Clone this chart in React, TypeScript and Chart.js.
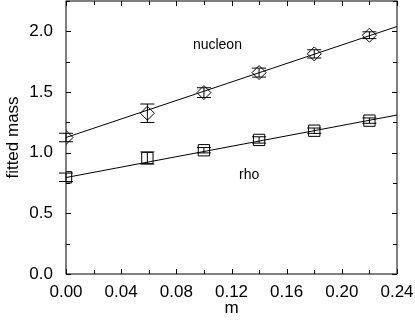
import React, { useEffect, useRef } from "react";
import { Chart, registerables } from "chart.js";

Chart.register(...registerables);

// ---- data ----
const massValues = [0.0, 0.059, 0.1, 0.14, 0.18, 0.22];
const nucleonMass = [1.125, 1.325, 1.495, 1.66, 1.814, 1.968];
const nucleonErr = [0.035, 0.076, 0.04, 0.037, 0.034, 0.028];
const rhoMass = [0.797, 0.956, 1.02, 1.105, 1.181, 1.264];
const rhoErr = [0.035, 0.05, 0.022, 0.026, 0.022, 0.022];
const fitX = [0.0, 0.24];
const nucleonFit = [1.125, 2.04];
const rhoFit = [0.795, 1.31];

const xTicks = [0, 0.04, 0.08, 0.12, 0.16, 0.2, 0.24];
const xMinorTicks = [0.02, 0.06, 0.1, 0.14, 0.18, 0.22];
const yTicks = [0, 0.5, 1.0, 1.5, 2.0];
const yMinorTicks = [0.25, 0.75, 1.25, 1.75, 2.25];

const labelTexts = ["nucleon", "rho"];
const labelX = [0.092, 0.1255];
const labelY = [1.888, 0.816];

const FONT = "'Liberation Sans', Arial, Helvetica, sans-serif";

const framePlugin = {
  id: "frameTicksErrors",
  afterDatasetsDraw(chart: any) {
    const { ctx, chartArea } = chart;
    const xs = chart.scales.x;
    const ys = chart.scales.y;
    const { left, right, top, bottom } = chartArea;
    ctx.save();
    ctx.strokeStyle = "#000";
    ctx.lineWidth = 1;
    // frame
    ctx.strokeRect(left, top, right - left, bottom - top);
    // ticks
    const drawX = (vals: number[], len: number) => {
      vals.forEach((v) => {
        const px = Math.round(xs.getPixelForValue(v)) + 0.5;
        ctx.beginPath();
        ctx.moveTo(px, bottom);
        ctx.lineTo(px, bottom - len);
        ctx.moveTo(px, top);
        ctx.lineTo(px, top + len);
        ctx.stroke();
      });
    };
    const drawY = (vals: number[], len: number) => {
      vals.forEach((v) => {
        const py = Math.round(ys.getPixelForValue(v)) + 0.5;
        ctx.beginPath();
        ctx.moveTo(left, py);
        ctx.lineTo(left + len, py);
        ctx.moveTo(right, py);
        ctx.lineTo(right - len, py);
        ctx.stroke();
      });
    };
    drawX(xTicks, 5);
    drawX(xMinorTicks, 4);
    drawY(yTicks, 5);
    drawY(yMinorTicks, 4);

    // error bars
    const drawErr = (vals: number[], errs: number[]) => {
      massValues.forEach((m, i) => {
        const px = xs.getPixelForValue(m);
        const y1 = ys.getPixelForValue(vals[i] - errs[i]);
        const y2 = ys.getPixelForValue(vals[i] + errs[i]);
        ctx.beginPath();
        ctx.moveTo(px, y1);
        ctx.lineTo(px, y2);
        ctx.moveTo(px - 7, y1);
        ctx.lineTo(px + 7, y1);
        ctx.moveTo(px - 7, y2);
        ctx.lineTo(px + 7, y2);
        ctx.stroke();
      });
    };
    drawErr(nucleonMass, nucleonErr);
    drawErr(rhoMass, rhoErr);

    // labels
    ctx.fillStyle = "#000";
    ctx.font = `14px ${FONT}`;
    ctx.textAlign = "left";
    ctx.textBaseline = "middle";
    labelTexts.forEach((t, i) => {
      ctx.fillText(t, xs.getPixelForValue(labelX[i]), ys.getPixelForValue(labelY[i]));
    });
    ctx.restore();
  },
};

export default function App() {
  const ref = useRef<HTMLCanvasElement | null>(null);
  useEffect(() => {
    if (!ref.current) return;
    const pts = (ys: number[]) => massValues.map((x, i) => ({ x, y: ys[i] }));
    const line = (ys: number[]) => fitX.map((x, i) => ({ x, y: ys[i] }));
    const chart = new Chart(ref.current, {
      type: "scatter",
      data: {
        datasets: [
          {
            label: "nucleon",
            data: pts(nucleonMass),
            pointStyle: "rectRot",
            pointRadius: 7,
            borderColor: "#000",
            backgroundColor: "rgba(0,0,0,0)",
            borderWidth: 1,
            showLine: false,
          },
          {
            label: "rho",
            data: pts(rhoMass),
            pointStyle: "rect",
            pointRadius: 8,
            borderColor: "#000",
            backgroundColor: "rgba(0,0,0,0)",
            borderWidth: 1,
            showLine: false,
          },
          {
            label: "nucleon fit",
            data: line(nucleonFit),
            showLine: true,
            pointRadius: 0,
            borderColor: "#000",
            borderWidth: 1,
          },
          {
            label: "rho fit",
            data: line(rhoFit),
            showLine: true,
            pointRadius: 0,
            borderColor: "#000",
            borderWidth: 1,
          },
        ],
      },
      options: {
        animation: false,
        responsive: false,
        events: [],
        layout: { autoPadding: false, padding: { top: 1, right: 18, left: 0, bottom: 0 } },
        plugins: { legend: { display: false }, tooltip: { enabled: false } },
        scales: {
          x: {
            type: "linear",
            min: 0,
            max: 0.24,
            afterBuildTicks: (s: any) => {
              s.ticks = xTicks.map((v) => ({ value: v }));
            },
            afterFit: (s: any) => {
              s.height = 53;
              s.paddingLeft = 0;
              s.paddingRight = 0;
              s.paddingTop = 0;
              s.paddingBottom = 0;
            },
            grid: { display: false, drawTicks: false },
            border: { display: false },
            ticks: {
              autoSkip: false,
              maxRotation: 0,
              padding: 8,
              color: "#000",
              font: { family: FONT, size: 17 },
              callback: (v: any) => Number(v).toFixed(2),
            },
            title: {
              display: true,
              text: "m",
              color: "#000",
              font: { family: FONT, size: 17 },
              padding: { top: 0, bottom: 8 },
            },
          },
          y: {
            type: "linear",
            min: 0,
            max: 2.25,
            afterBuildTicks: (s: any) => {
              s.ticks = yTicks.map((v) => ({ value: v }));
            },
            afterFit: (s: any) => {
              s.width = 66;
              s.paddingLeft = 0;
              s.paddingRight = 0;
              s.paddingTop = 0;
              s.paddingBottom = 0;
            },
            grid: { display: false, drawTicks: false },
            border: { display: false },
            ticks: {
              autoSkip: false,
              padding: 13,
              color: "#000",
              font: { family: FONT, size: 17 },
              callback: (v: any) => Number(v).toFixed(1),
            },
            title: {
              display: true,
              text: "fitted mass",
              color: "#000",
              font: { family: FONT, size: 17 },
              padding: { top: 3, bottom: 0 },
            },
          },
        },
      },
      plugins: [framePlugin],
    });
    return () => chart.destroy();
  }, []);
  return (
    <div style={{ position: "absolute", left: 0, top: 0, width: 415, height: 327, background: "#fff" }}>
      <canvas ref={ref} width={415} height={327} />
    </div>
  );
}
